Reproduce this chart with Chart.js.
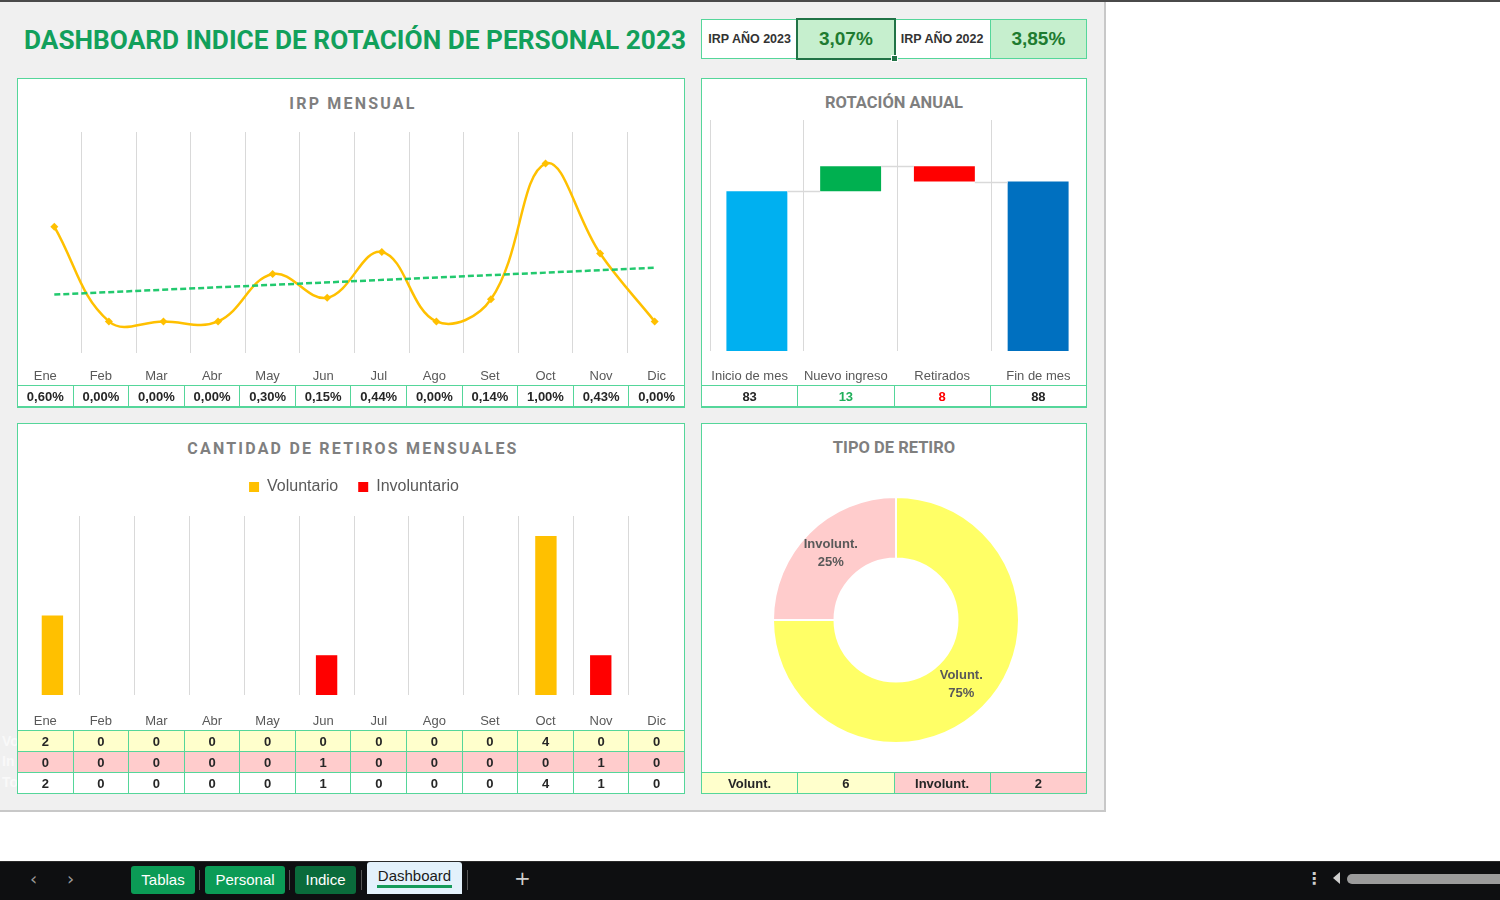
<!DOCTYPE html>
<html lang="es">
<head>
<meta charset="utf-8">
<title>Dashboard Indice de Rotación de Personal 2023</title>
<script src="https://cdn.jsdelivr.net/npm/chart.js@4.4.1/dist/chart.umd.min.js"></script>
<style>
  html, body { margin: 0; padding: 0; width: 1500px; height: 900px; overflow: hidden; background: #fff;
    font-family: 'Liberation Sans', Arial, sans-serif; }
  .abs { position: absolute; }
  #lineaTop { left: 0; top: 0; width: 1500px; height: 2px; background: #4a4a4a; }
  #hoja { left: 0; top: 2px; width: 1104px; height: 808px; background: #F0F0F0;
    border-right: 2px solid #C8C8C8; border-bottom: 2px solid #C8C8C8; }
  #titulo { left: 24px; top: 25px; font: bold 26px Roboto, 'Liberation Sans', sans-serif;
    color: #12A05B; white-space: nowrap; transform-origin: 0 50%; }
  .panel { background: #fff; border: 1px solid #55D69A; box-sizing: border-box; }
  .tituloPanel { font: bold 16px Roboto, 'Liberation Sans', sans-serif; color: #7F7F7F; text-align: center; white-space: nowrap; }
  .espaciado { letter-spacing: 2.2px; text-indent: 4px; }
  table.celdas { position: absolute; border-collapse: collapse; table-layout: fixed; }
  table.celdas td { border: 1px solid #55D69A; padding: 0; text-align: center; font: bold 13px 'Liberation Sans', Arial, sans-serif;
    color: #262626; overflow: hidden; white-space: nowrap; background: #fff; height: 20px; }
  table.celdas td.encabezado { border: none; background: transparent; font: 13px 'Liberation Sans', Arial, sans-serif;
    color: #595959; height: 20px; vertical-align: middle; }
  table.celdas td.amarillo { background: #FFFFCC; }
  table.celdas td.rosado { background: #FFCCCC; }
  table.celdas td.kpiLbl { font: bold 12.5px 'Liberation Sans', Arial, sans-serif; color: #333; height: 38px; }
  table.celdas td.kpiVal { background: #C6EFCE; font: bold 19px 'Liberation Sans', Arial, sans-serif; color: #1E7B30; height: 38px; }
  #seleccion { left: 796px; top: 18px; width: 96px; height: 38px; border: 2px solid #217346; }
  #asa { left: 891px; top: 55px; width: 5px; height: 5px; background: #217346; border: 1px solid #fff; }
  .fantasma { left: 2px; font: bold 14px 'Liberation Sans', Arial, sans-serif; color: #F9F9F9; }
  canvas { position: absolute; }
  /* barra de hojas */
  #barra { left: 0; top: 861px; width: 1500px; height: 39px; background: #0E0F11; border-top: 1px solid #2a2a2a; }
  .flecha { top: 868px; font: 18px 'DejaVu Sans', sans-serif; color: #9a9a9a; }
  .tab { top: 866px; height: 28px; text-align: center; color: #fff; font: 15px 'Liberation Sans', Arial, sans-serif;
    line-height: 28px; background: #0B9B56; border-radius: 3px; }
  #tabDash { top: 862px; height: 32px; line-height: 28px; color: #1a1a1a; background: #E3F1FB; border-radius: 3px 3px 0 0; }
  #tabDash span { border-bottom: 3px solid #159B5A; padding: 0 1px 1px; }
  .sep { top: 870px; width: 1px; height: 20px; background: #555; }
  #scroll { left: 1347px; top: 874px; width: 160px; height: 10px; background: #9B9B9B; border-radius: 5px; }
</style>
</head>
<body>
<div id="lineaTop" class="abs"></div>
<div id="hoja" class="abs"></div>
<div id="titulo" class="abs">DASHBOARD INDICE DE ROTACIÓN DE PERSONAL 2023</div>

<!-- KPIs -->
<table class="celdas" id="tablaKpi" style="left:701px; top:19px; width:386px;"></table>
<div id="seleccion" class="abs"></div>
<div id="asa" class="abs"></div>

<!-- paneles -->
<div class="abs panel" style="left:17px; top:78px; width:668px; height:330px;"></div>
<div class="abs panel" style="left:701px; top:78px; width:386px; height:330px;"></div>
<div class="abs panel" style="left:17px; top:423px; width:668px; height:371px;"></div>
<div class="abs panel" style="left:701px; top:423px; width:386px; height:371px;"></div>

<div class="abs tituloPanel espaciado" style="left:17px; width:668px; top:94px;">IRP MENSUAL</div>
<div class="abs tituloPanel" style="left:701px; width:386px; top:93px; font-size:16.5px;">ROTACIÓN ANUAL</div>
<div class="abs tituloPanel espaciado" style="left:17px; width:668px; top:439px;">CANTIDAD DE RETIROS MENSUALES</div>
<div class="abs tituloPanel" style="left:701px; width:386px; top:438px; font-size:16.5px;">TIPO DE RETIRO</div>

<canvas id="graficoIrp" width="655" height="253" style="left:27px; top:132px;"></canvas>
<canvas id="graficoRotacion" width="375" height="263" style="left:710px; top:120px;"></canvas>
<canvas id="graficoRetiros" width="658" height="273" style="left:25px; top:456px;"></canvas>
<canvas id="graficoTipo" width="248" height="248" style="left:772px; top:496px;"></canvas>

<div class="abs fantasma" style="top:733px;">Vo</div>
<div class="abs fantasma" style="top:753px;">In</div>
<div class="abs fantasma" style="top:774px;">To</div>

<table class="celdas" id="tablaIrp" style="left:17px; top:365px; width:668px;"></table>
<table class="celdas" id="tablaRotacion" style="left:701px; top:365px; width:386px;"></table>
<table class="celdas" id="tablaRetiros" style="left:17px; top:710px; width:668px;"></table>
<table class="celdas" id="tablaTipo" style="left:701px; top:772px; width:386px;"></table>

<!-- barra de hojas -->
<div id="barra" class="abs"></div>
<div class="abs flecha" style="left:30px;">‹</div>
<div class="abs flecha" style="left:67px;">›</div>
<div class="abs tab" style="left:131px; width:64px;">Tablas</div>
<div class="abs sep" style="left:199px;"></div>
<div class="abs tab" style="left:205px; width:80px;">Personal</div>
<div class="abs sep" style="left:289px;"></div>
<div class="abs tab" style="left:295px; width:61px; background:#0A6B3B;">Indice</div>
<div class="abs sep" style="left:361px;"></div>
<div class="abs tab" id="tabDash" style="left:367px; width:95px;"><span>Dashboard</span></div>
<div class="abs sep" style="left:467px;"></div>
<div class="abs" style="left:514px; top:866px; font:20px 'DejaVu Sans',sans-serif; color:#cfcfcf;">+</div>
<div class="abs" style="left:1306px; top:869px; font:bold 16px 'DejaVu Sans',sans-serif; color:#cfcfcf;">⋮</div>
<div class="abs" style="left:1333px; top:872px; width:0; height:0; border-top:6px solid transparent; border-bottom:6px solid transparent; border-right:7px solid #cfcfcf;"></div>
<div id="scroll" class="abs"></div>

<script>
// ========================================
// Datos del dashboard
// ========================================
const meses = ['Ene', 'Feb', 'Mar', 'Abr', 'May', 'Jun', 'Jul', 'Ago', 'Set', 'Oct', 'Nov', 'Dic'];
const irpMensual = [0.60, 0.00, 0.00, 0.00, 0.30, 0.15, 0.44, 0.00, 0.14, 1.00, 0.43, 0.00];
// línea de tendencia (extremos)
const tendencia = [0.17, null, null, null, null, null, null, null, null, null, null, 0.34];

const retirosVoluntarios = [2, 0, 0, 0, 0, 0, 0, 0, 0, 4, 0, 0];
const retirosInvoluntarios = [0, 0, 0, 0, 0, 1, 0, 0, 0, 0, 1, 0];

const rotacionEtiquetas = ['Inicio de mes', 'Nuevo ingreso', 'Retirados', 'Fin de mes'];
const rotacionValores = [83, 13, 8, 88];

const tipoEtiquetas = ['Volunt.', 'Involunt.'];
const tipoValores = [6, 2];

const kpiEtiquetas = ['IRP AÑO 2023', 'IRP AÑO 2022'];
const kpiValores = [3.07, 3.85];

const GRIS_TEXTO = '#595959';
const GRIS_GRILLA = '#D9D9D9';

Chart.defaults.font.family = "'Liberation Sans', Arial, sans-serif";
Chart.defaults.color = GRIS_TEXTO;
Chart.defaults.animation = false;
Chart.defaults.plugins.tooltip.enabled = false;

function formatoPct(v) {
    return v.toFixed(2).replace('.', ',') + '%';
}

// ajustar el título al ancho del encabezado
const titulo = document.getElementById('titulo');
titulo.style.transform = `scaleX(${662 / titulo.scrollWidth})`;

// ========================================
// Tablas de celdas (las etiquetas de categoría son celdas de la hoja)
// ========================================
const filaEncabezado = etiquetas => '<tr>' + etiquetas.map(e => `<td class="encabezado">${e}</td>`).join('') + '</tr>';

document.getElementById('tablaKpi').innerHTML = '<tr>' + kpiEtiquetas.map((e, i) =>
    `<td class="kpiLbl">${e}</td><td class="kpiVal">${formatoPct(kpiValores[i])}</td>`).join('') + '</tr>';

document.getElementById('tablaIrp').innerHTML = filaEncabezado(meses) +
    '<tr>' + irpMensual.map(v => `<td>${formatoPct(v)}</td>`).join('') + '</tr>';

const coloresRotacion = ['#262626', '#1FAF5A', '#FF0000', '#262626'];
document.getElementById('tablaRotacion').innerHTML = filaEncabezado(rotacionEtiquetas) +
    '<tr>' + rotacionValores.map((v, i) => `<td style="color:${coloresRotacion[i]}">${v}</td>`).join('') + '</tr>';

const totalRetiros = retirosVoluntarios.map((v, i) => v + retirosInvoluntarios[i]);
document.getElementById('tablaRetiros').innerHTML = filaEncabezado(meses) +
    '<tr>' + retirosVoluntarios.map(v => `<td class="amarillo">${v}</td>`).join('') + '</tr>' +
    '<tr>' + retirosInvoluntarios.map(v => `<td class="rosado">${v}</td>`).join('') + '</tr>' +
    '<tr>' + totalRetiros.map(v => `<td>${v}</td>`).join('') + '</tr>';

document.getElementById('tablaTipo').innerHTML = '<tr>' +
    `<td class="amarillo">${tipoEtiquetas[0]}</td><td class="amarillo">${tipoValores[0]}</td>` +
    `<td class="rosado">${tipoEtiquetas[1]}</td><td class="rosado">${tipoValores[1]}</td></tr>`;

// eje de categorías: solo las líneas verticales, con alto fijo bajo el área del gráfico
function ejeCategorias(alto) {
    return {
        offset: true,
        grid: { offset: true, color: GRIS_GRILLA, drawTicks: false },
        border: { display: false },
        ticks: { display: false },
        afterFit(scale) {
            scale.height = alto;
            scale.paddingLeft = 0;
            scale.paddingRight = 0;
        }
    };
}

// ========================================
// 1. IRP mensual (línea suavizada + tendencia)
// ========================================
new Chart(document.getElementById('graficoIrp'), {
    type: 'line',
    data: {
        labels: meses,
        datasets: [{
            label: 'IRP',
            data: irpMensual,
            borderColor: '#FFC000',
            backgroundColor: '#FFC000',
            borderWidth: 2.5,
            tension: 0.4,
            pointStyle: 'rectRot',
            pointRadius: 4,
            pointBorderWidth: 0,
            order: 1
        }, {
            label: 'Tendencia',
            data: tendencia,
            spanGaps: true,
            borderColor: '#22C96E',
            borderWidth: 2.5,
            borderDash: [6, 3],
            pointRadius: 0,
            order: 0
        }]
    },
    options: {
        responsive: false,
        devicePixelRatio: 1,
        layout: { padding: 0, autoPadding: false },
        plugins: { legend: { display: false } },
        scales: {
            x: ejeCategorias(32),
            y: { display: false, min: -0.2, max: 1.2 }
        }
    }
});

// ========================================
// 2. Rotación anual (cascada con barras flotantes)
// ========================================
const nivelInicio = rotacionValores[0];
const nivelIngreso = nivelInicio + rotacionValores[1];
const nivelRetiro = nivelIngreso - rotacionValores[2];
const nivelesRotacion = [nivelInicio, nivelIngreso, nivelRetiro];
const barrasRotacion = [
    [0, nivelInicio],
    [nivelInicio, nivelIngreso],
    [nivelRetiro, nivelIngreso],
    [0, rotacionValores[3]]
];

const conectores = {
    id: 'conectores',
    afterDatasetsDraw(chart) {
        const meta = chart.getDatasetMeta(0);
        const y = chart.scales.y;
        const ctx = chart.ctx;
        ctx.save();
        ctx.strokeStyle = GRIS_GRILLA;
        ctx.lineWidth = 1.5;
        for (let i = 0; i < meta.data.length - 1; i++) {
            const a = meta.data[i], b = meta.data[i + 1];
            const py = Math.round(y.getPixelForValue(nivelesRotacion[i])) + 0.5;
            ctx.beginPath();
            ctx.moveTo(a.x + a.width / 2, py);
            ctx.lineTo(b.x - b.width / 2, py);
            ctx.stroke();
        }
        ctx.restore();
    }
};

new Chart(document.getElementById('graficoRotacion'), {
    type: 'bar',
    data: {
        labels: rotacionEtiquetas,
        datasets: [{
            data: barrasRotacion,
            backgroundColor: ['#00B0F0', '#00B050', '#FF0000', '#0070C0'],
            categoryPercentage: 1,
            barPercentage: 0.65
        }]
    },
    options: {
        responsive: false,
        devicePixelRatio: 1,
        layout: { padding: 0 },
        plugins: { legend: { display: false } },
        scales: {
            x: ejeCategorias(32),
            y: { display: false, min: 0, max: 120 }
        }
    },
    plugins: [conectores]
});

// ========================================
// 3. Cantidad de retiros mensuales (barras apiladas)
// ========================================
// deja más aire entre la leyenda y las barras
const leyendaAlta = {
    id: 'leyendaAlta',
    beforeInit(chart) {
        const fitOriginal = chart.legend.fit;
        chart.legend.fit = function () {
            fitOriginal.call(this);
            this.height += 11;
        };
    }
};

new Chart(document.getElementById('graficoRetiros'), {
    type: 'bar',
    data: {
        labels: meses,
        datasets: [{
            label: 'Voluntario',
            data: retirosVoluntarios,
            backgroundColor: '#FFC000'
        }, {
            label: 'Involuntario',
            data: retirosInvoluntarios,
            backgroundColor: '#FF0000'
        }]
    },
    options: {
        responsive: false,
        devicePixelRatio: 1,
        layout: { padding: { top: 3 } },
        datasets: { bar: { categoryPercentage: 1, barPercentage: 0.39 } },
        plugins: {
            legend: {
                position: 'top',
                labels: { boxWidth: 10, boxHeight: 10, padding: 20, font: { size: 16 }, color: GRIS_TEXTO }
            }
        },
        scales: {
            x: { ...ejeCategorias(34), stacked: true },
            y: { display: false, stacked: true, min: 0, max: 4.5 }
        }
    },
    plugins: [leyendaAlta]
});

// ========================================
// 4. Tipo de retiro (dona con etiquetas)
// ========================================
const etiquetasDona = {
    id: 'etiquetasDona',
    afterDatasetsDraw(chart) {
        const ctx = chart.ctx;
        const meta = chart.getDatasetMeta(0);
        const total = tipoValores.reduce((a, b) => a + b, 0);
        ctx.save();
        ctx.fillStyle = GRIS_TEXTO;
        ctx.font = "bold 13px 'Liberation Sans', Arial, sans-serif";
        ctx.textAlign = 'center';
        ctx.textBaseline = 'middle';
        meta.data.forEach((arc, i) => {
            const p = arc.tooltipPosition();
            ctx.fillText(tipoEtiquetas[i], p.x, p.y - 10);
            ctx.fillText(Math.round(tipoValores[i] / total * 100) + '%', p.x, p.y + 8);
        });
        ctx.restore();
    }
};

new Chart(document.getElementById('graficoTipo'), {
    type: 'doughnut',
    data: {
        labels: tipoEtiquetas,
        datasets: [{
            data: tipoValores,
            backgroundColor: ['#FFFF66', '#FFCCCC'],
            borderColor: '#FFFFFF',
            borderWidth: 2
        }]
    },
    options: {
        responsive: false,
        devicePixelRatio: 1,
        cutout: '50%',
        plugins: { legend: { display: false } }
    },
    plugins: [etiquetasDona]
});
</script>
</body>
</html>
